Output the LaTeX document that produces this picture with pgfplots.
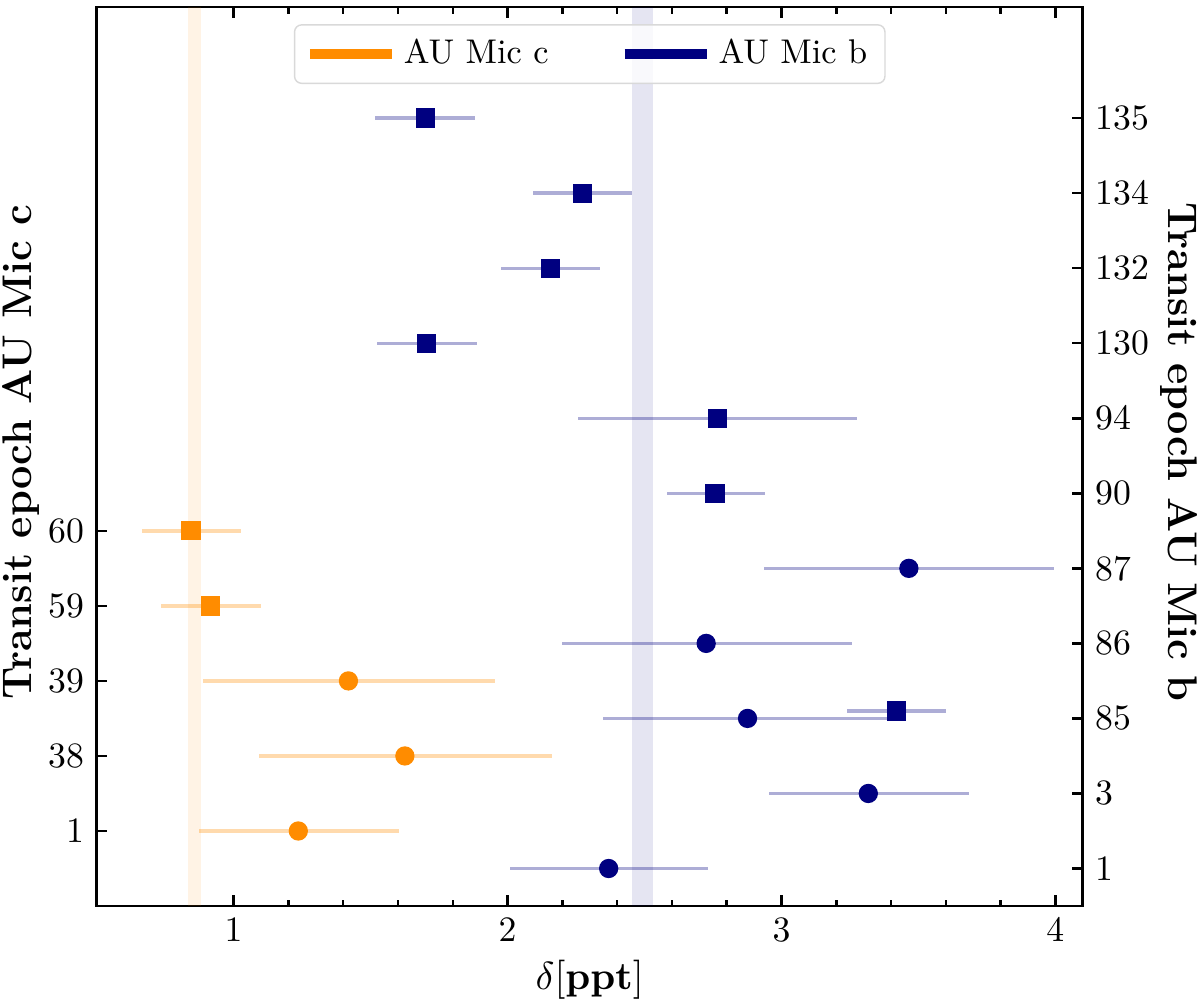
\documentclass[border=0pt]{standalone}
\usepackage{pgfplots}
\usepackage{pgfplotstable}
\pgfplotsset{compat=1.18}

\definecolor{darkorange}{RGB}{255,140,0}
\definecolor{navyb}{RGB}{0,0,128}

% y = row position: AU Mic b epochs at 0..10, AU Mic c epochs at 0.5..4.5
\pgfplotstableread{
x     y    em    ep
2.369 0    0.362 0.364
3.317 1    0.363 0.366
2.876 2    0.529 0.530
2.725 3    0.528 0.531
3.465 4    0.528 0.531
}\bcirc

\pgfplotstableread{
x     y    em    ep
3.419 2.10 0.179 0.181
2.757 5    0.176 0.181
2.766 6    0.508 0.509
1.704 7    0.181 0.184
2.156 8    0.180 0.182
2.273 9    0.180 0.183
1.700 10   0.183 0.182
}\bsq

\pgfplotstableread{
x     y    em    ep
1.236 0.5  0.363 0.368
1.625 1.5  0.531 0.537
1.419 2.5  0.532 0.534
}\ccirc

\pgfplotstableread{
x     y    em    ep
0.915 3.5  0.179 0.183
0.844 4.5  0.180 0.182
}\csq

\pgfplotsset{
  common/.style={
    scale only axis, width=276.1pt, height=251.7pt,
    xmin=0.5, xmax=4.1, ymin=-0.5, ymax=11.48,
    tick align=inside,
    major tick length=3pt, minor tick length=1.8pt,
    every tick/.style={black, line width=0.7pt},
    axis line style={line width=0.8pt},
    tick label style={font=\fontsize{10}{12}\selectfont},
  },
  errb/.style={only marks, mark size=2.5pt, color=#1,
    error bars/.cd, x dir=both, x explicit, error mark=none,
    error bar style={line width=0.95pt, color=#1, opacity=0.32}},
}

\begin{document}
\begin{tikzpicture}
\useasboundingbox (-27.08pt,-28.28pt) rectangle (308.92pt,253.68pt);

\begin{axis}[
  common,
  xtick={1,2,3,4}, minor x tick num=4, xtick pos=both,
  ytick={0.5,1.5,2.5,3.5,4.5}, yticklabels={1,38,39,59,60},
  ytick pos=left,
  xlabel={$\delta[\mathbf{ppt}]$},
  ylabel={\textbf{Transit epoch AU Mic c}},
  xlabel style={at={(axis description cs:0.5,-0.0823)}, anchor=center, font=\fontsize{11}{13}\selectfont},
  ylabel style={at={(axis description cs:-0.077,0.505)}, anchor=center, rotate=0, font=\fontsize{11.6}{14}\selectfont},
  legend columns=2,
  legend style={at={(axis description cs:0.5,0.981)}, anchor=north,
    draw=black!15, rounded corners=2pt, fill=white, fill opacity=0.8, text opacity=1,
    font=\fontsize{9.6}{11.5}\selectfont,
    /tikz/every even column/.append style={column sep=18pt}},
  legend image code/.code={\draw[#1, line width=2.6pt] (0pt,0pt) -- (23pt,0pt);},
]
% shaded bands
\addplot[draw=none, fill=darkorange, fill opacity=0.1, forget plot]
  coordinates {(0.834,-0.5) (0.834,11.48) (0.882,11.48) (0.882,-0.5)} -- cycle;
\addplot[draw=none, fill=navyb, fill opacity=0.1, forget plot]
  coordinates {(2.454,-0.5) (2.454,11.48) (2.531,11.48) (2.531,-0.5)} -- cycle;

% AU Mic c
\addplot[mark=*, forget plot, errb=darkorange]
  table[x=x, y=y, x error minus=em, x error plus=ep] {\ccirc};
\addplot[mark=square*, forget plot, errb=darkorange]
  table[x=x, y=y, x error minus=em, x error plus=ep] {\csq};

% AU Mic b
\addplot[mark=*, forget plot, errb=navyb]
  table[x=x, y=y, x error minus=em, x error plus=ep] {\bcirc};
\addplot[mark=square*, forget plot, errb=navyb]
  table[x=x, y=y, x error minus=em, x error plus=ep] {\bsq};

\addlegendimage{color=darkorange}
\addlegendentry{AU Mic c}
\addlegendimage{color=navyb}
\addlegendentry{AU Mic b}
\end{axis}

\begin{axis}[
  common,
  axis x line=none, axis y line*=right,
  ytick={0,1,2,3,4,5,6,7,8,9,10},
  yticklabels={1,3,85,86,87,90,94,130,132,134,135},
  ylabel={\textbf{Transit epoch AU Mic b}},
  ylabel style={at={(axis description cs:1.098,0.505)}, anchor=center, rotate=180, font=\fontsize{11.6}{14}\selectfont},
]
\end{axis}
\end{tikzpicture}
\end{document}
